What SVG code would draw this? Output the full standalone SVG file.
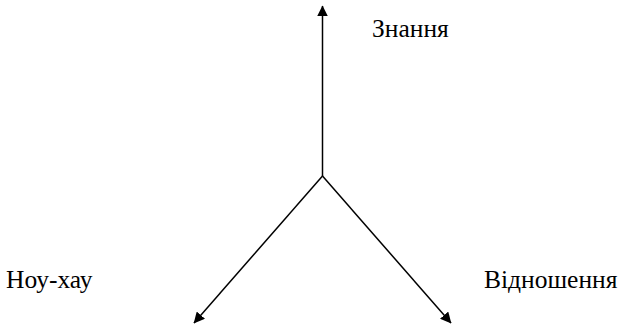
<svg xmlns="http://www.w3.org/2000/svg" width="622" height="324" viewBox="0 0 622 324">
<style>
.c{stroke:#000;stroke-width:1.5;fill:none}
.t{font-family:'Liberation Serif','Times New Roman',serif;font-size:25.5px;fill:#000}
</style>
<defs>
<marker id="a" viewBox="0 0 10 10" refX="9.5" refY="5" markerWidth="11" markerHeight="11" markerUnits="userSpaceOnUse" orient="auto">
<path d="M0,0 L10,5 L0,10 z" fill="#000"/>
</marker>
</defs>
<rect width="622" height="324" fill="#fff"/>
<g id="connectors">
<line class="c" x1="322.5" y1="176" x2="322.5" y2="6" marker-end="url(#a)"/>
<line class="c" x1="322.5" y1="176" x2="194" y2="323" marker-end="url(#a)"/>
<line class="c" x1="322.5" y1="176" x2="451" y2="323" marker-end="url(#a)"/>
</g>
<g id="n1"><text class="t" x="372" y="37">Знання</text></g>
<g id="n2"><text class="t" x="6" y="288">Ноу-хау</text></g>
<g id="n3"><text class="t" x="484" y="288">Відношення</text></g>
</svg>
